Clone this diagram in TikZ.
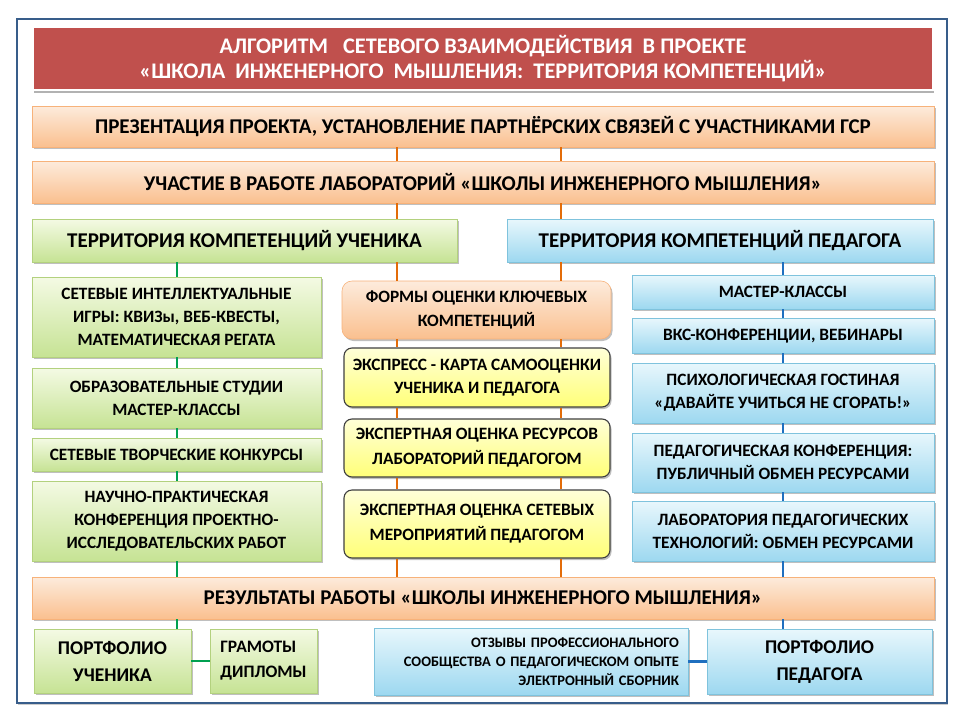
\documentclass[tikz,border=0pt]{standalone}
\usepackage{fontspec}
\setmainfont{Carlito}
\usetikzlibrary{shadows,calc}
\definecolor{frameblue}{HTML}{385D8A}
\definecolor{titlered}{HTML}{C0504D}
\definecolor{ortop}{HTML}{FDEBDC}
\definecolor{orbot}{HTML}{FAC08F}
\definecolor{ordraw}{HTML}{F7B27A}
\definecolor{grtop}{HTML}{F4FAE4}
\definecolor{grbot}{HTML}{C6E394}
\definecolor{grdraw}{HTML}{B3D17E}
\definecolor{bltop}{HTML}{E8F7FC}
\definecolor{blbot}{HTML}{9DD8F0}
\definecolor{bldraw}{HTML}{7FC3DD}
\definecolor{yetop}{HTML}{FFFFD8}
\definecolor{yebot}{HTML}{FFFF78}
\definecolor{oline}{HTML}{E36C09}
\definecolor{gline}{HTML}{00A050}
\definecolor{bline}{HTML}{1F6FBF}
\newcommand\bx[7]{\node[#6, minimum width={(#4-#2)*1pt}, minimum height={(#5-#3)*1pt}] (#1) at ({(#2+#4)/2},{(#3+#5)/2}) {#7};}
\newcommand\fsz[2]{\fontsize{#1}{#2}\selectfont\bfseries}
\tikzset{
  basebox/.style={inner sep=0pt, align=center, text=black,
    drop shadow={shadow xshift=1.5pt, shadow yshift=-2pt, fill=black, opacity=0.25}},
  obox/.style={basebox, draw=ordraw, line width=0.6pt, top color=ortop, bottom color=orbot},
  gbox/.style={basebox, draw=grdraw, line width=0.6pt, top color=grtop, bottom color=grbot},
  bbox/.style={basebox, draw=bldraw, line width=0.6pt, top color=bltop, bottom color=blbot},
  ybox/.style={basebox, draw=black!75, line width=1.1pt, rounded corners=8pt, top color=yetop, bottom color=yebot},
  rbox/.style={basebox, draw=ordraw, line width=0.6pt, rounded corners=10pt, top color=ortop, bottom color=orbot},
  tbox/.style={inner sep=0pt, align=center, text=white, fill=titlered, draw=white, line width=2pt,
    drop shadow={shadow xshift=1pt, shadow yshift=-2.5pt, fill=black, opacity=0.3}},
  big/.style={font=\fsz{21}{25}},
  mid/.style={font=\fsz{17.3}{#1}},
  oconn/.style={draw=oline, line width=2.6pt},
  gconn/.style={draw=gline, line width=2.2pt},
  bconn/.style={draw=bline, line width=2.2pt},
}
\begin{document}
\begin{tikzpicture}[x=1pt,y=-1pt]
\useasboundingbox (0,0) rectangle (960,720);
\fill[white] (0,0) rectangle (960,720);
\node[draw=frameblue, line width=2pt, inner sep=0pt, minimum width=930pt, minimum height=684pt,
  drop shadow={shadow xshift=1pt, shadow yshift=-1.5pt, fill=black, opacity=0.2}, fill=white] (frame) at (482,361) {};

\coordinate (xA) at (397,0);
\coordinate (xB) at (561,0);
\coordinate (xG) at (177,0);
\coordinate (xP) at (783,0);

\bx{title}{33}{27}{933}{90}{tbox, font=\fsz{22.3}{25}}{АЛГОРИТМ\ \ \ СЕТЕВОГО ВЗАИМОДЕЙСТВИЯ\ \ В ПРОЕКТЕ\\«ШКОЛА\ \ ИНЖЕНЕРНОГО\ \ МЫШЛЕНИЯ:\ \ ТЕРРИТОРИЯ КОМПЕТЕНЦИЙ»}
\bx{r1}{32}{106}{934}{147}{obox, big}{ПРЕЗЕНТАЦИЯ ПРОЕКТА, УСТАНОВЛЕНИЕ ПАРТНЁРСКИХ СВЯЗЕЙ С УЧАСТНИКАМИ ГСР}
\bx{r2}{32}{161}{934}{203}{obox, big}{УЧАСТИЕ В РАБОТЕ ЛАБОРАТОРИЙ «ШКОЛЫ ИНЖЕНЕРНОГО МЫШЛЕНИЯ»}
\bx{hl}{32}{219}{457}{262}{gbox, big}{ТЕРРИТОРИЯ КОМПЕТЕНЦИЙ УЧЕНИКА}
\bx{hr}{507}{219}{933}{262}{bbox, big}{ТЕРРИТОРИЯ КОМПЕТЕНЦИЙ ПЕДАГОГА}

\bx{l1}{32}{277}{321}{357}{gbox, mid=23}{СЕТЕВЫЕ ИНТЕЛЛЕКТУАЛЬНЫЕ\\ИГРЫ: КВИЗы, ВЕБ-КВЕСТЫ,\\МАТЕМАТИЧЕСКАЯ РЕГАТА}
\bx{l2}{32}{368}{321}{428}{gbox, mid=23}{ОБРАЗОВАТЕЛЬНЫЕ СТУДИИ\\МАСТЕР-КЛАССЫ}
\bx{l3}{32}{438}{321}{471}{gbox, mid=23}{СЕТЕВЫЕ ТВОРЧЕСКИЕ КОНКУРСЫ}
\bx{l4}{32}{481}{321}{561}{gbox, mid=23}{НАУЧНО-ПРАКТИЧЕСКАЯ\\КОНФЕРЕНЦИЯ ПРОЕКТНО-\\ИССЛЕДОВАТЕЛЬСКИХ РАБОТ}

\bx{m0}{342}{281}{611}{339}{rbox, mid=24}{ФОРМЫ ОЦЕНКИ КЛЮЧЕВЫХ\\КОМПЕТЕНЦИЙ}
\bx{m1}{344}{348}{610}{407}{ybox, mid=23}{ЭКСПРЕСС - КАРТА САМООЦЕНКИ\\УЧЕНИКА И ПЕДАГОГА}
\bx{m2}{344}{419}{610}{477}{ybox, mid=25}{ЭКСПЕРТНАЯ ОЦЕНКА РЕСУРСОВ\\ЛАБОРАТОРИЙ ПЕДАГОГОМ}
\bx{m3}{344}{490}{610}{558}{ybox, mid=25}{ЭКСПЕРТНАЯ ОЦЕНКА СЕТЕВЫХ\\МЕРОПРИЯТИЙ ПЕДАГОГОМ}

\bx{p1}{632}{275}{934}{309}{bbox, mid=23}{МАСТЕР-КЛАССЫ}
\bx{p2}{632}{318}{934}{353}{bbox, mid=23}{ВКС-КОНФЕРЕНЦИИ, ВЕБИНАРЫ}
\bx{p3}{632}{363}{934}{423}{bbox, mid=23}{ПСИХОЛОГИЧЕСКАЯ ГОСТИНАЯ\\«ДАВАЙТЕ УЧИТЬСЯ НЕ СГОРАТЬ!»}
\bx{p4}{632}{433}{934}{492}{bbox, mid=23}{ПЕДАГОГИЧЕСКАЯ КОНФЕРЕНЦИЯ:\\ПУБЛИЧНЫЙ ОБМЕН РЕСУРСАМИ}
\bx{p5}{632}{501}{934}{561}{bbox, mid=23}{ЛАБОРАТОРИЯ ПЕДАГОГИЧЕСКИХ\\ТЕХНОЛОГИЙ: ОБМЕН РЕСУРСАМИ}

\bx{res}{32}{577}{934}{619}{obox, big}{РЕЗУЛЬТАТЫ РАБОТЫ «ШКОЛЫ ИНЖЕНЕРНОГО МЫШЛЕНИЯ»}

\bx{b1}{34}{629}{191}{693}{gbox, font=\fsz{19.4}{27}}{ПОРТФОЛИО\\УЧЕНИКА}
\bx{b2}{210}{629}{317}{693}{gbox, font=\fsz{17.5}{25}, align=left}{ГРАМОТЫ\\ДИПЛОМЫ}
\bx{b3}{374}{628}{688}{695}{bbox, font=\fsz{14.5}{19}, align=right, text width=296pt, inner xsep=9pt}{ОТЗЫВЫ ПРОФЕССИОНАЛЬНОГО\\СООБЩЕСТВА О ПЕДАГОГИЧЕСКОМ ОПЫТЕ\\ЭЛЕКТРОННЫЙ СБОРНИК}
\bx{b4}{707}{629}{932}{694}{bbox, font=\fsz{19.4}{27}}{ПОРТФОЛИО\\ПЕДАГОГА}

% orange connectors
\draw[oconn] (r1.south -| xA) -- (r2.north -| xA);
\draw[oconn] (r1.south -| xB) -- (r2.north -| xB);
\draw[oconn] (r2.south -| xA) -- (hl.north -| xA);
\draw[oconn] (r2.south -| xB) -- (hr.north -| xB);
\draw[oconn] (hl.south -| xA) -- (m0.north -| xA);
\draw[oconn] (hr.south -| xB) -- (m0.north -| xB);
\draw[oconn] (m0.south -| xA) -- (m1.north -| xA);
\draw[oconn] (m0.south -| xB) -- (m1.north -| xB);
\draw[oconn] (m1.south -| xA) -- (m2.north -| xA);
\draw[oconn] (m1.south -| xB) -- (m2.north -| xB);
\draw[oconn] (m2.south -| xA) -- (m3.north -| xA);
\draw[oconn] (m2.south -| xB) -- (m3.north -| xB);
\draw[oconn] (m3.south -| xA) -- (res.north -| xA);
\draw[oconn] (m3.south -| xB) -- (res.north -| xB);
% green connectors
\draw[gconn] (hl.south -| xG) -- (l1.north -| xG);
\draw[gconn] (l1.south -| xG) -- (l2.north -| xG);
\draw[gconn] (l2.south -| xG) -- (l3.north -| xG);
\draw[gconn] (l3.south -| xG) -- (l4.north -| xG);
\draw[gconn] (l4.south -| xG) -- (res.north -| xG);
\draw[gconn] (res.south -| xG) -- (b1.north -| xG);
\draw[gconn] (b1.east) -- (b2.west);
% blue connectors
\draw[bconn] (hr.south -| xP) -- (p1.north -| xP);
\draw[bconn] (p1.south -| xP) -- (p2.north -| xP);
\draw[bconn] (p2.south -| xP) -- (p3.north -| xP);
\draw[bconn] (p3.south -| xP) -- (p4.north -| xP);
\draw[bconn] (p4.south -| xP) -- (p5.north -| xP);
\draw[bconn] (p5.south -| xP) -- (res.north -| xP);
\draw[bconn] (res.south -| xP) -- (b4.north -| xP);
\draw[bconn] (b3.east) -- (b4.west);
\end{tikzpicture}
\end{document}
